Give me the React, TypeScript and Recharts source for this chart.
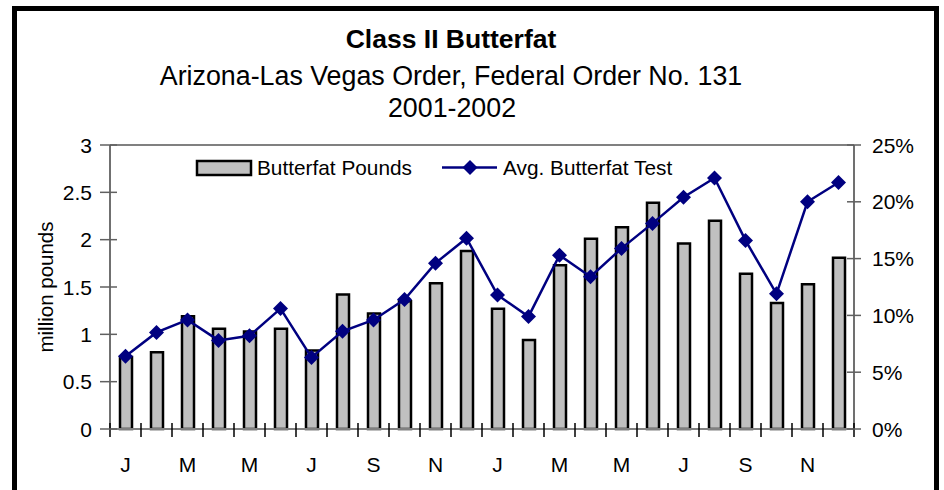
import React from 'react';
import { ComposedChart, Bar, Line, XAxis, YAxis, Legend, ReferenceLine } from 'recharts';

// ---- data ----
const months = [
  'Jan 2001', 'Feb 2001', 'Mar 2001', 'Apr 2001', 'May 2001', 'Jun 2001',
  'Jul 2001', 'Aug 2001', 'Sep 2001', 'Oct 2001', 'Nov 2001', 'Dec 2001',
  'Jan 2002', 'Feb 2002', 'Mar 2002', 'Apr 2002', 'May 2002', 'Jun 2002',
  'Jul 2002', 'Aug 2002', 'Sep 2002', 'Oct 2002', 'Nov 2002', 'Dec 2002',
];
const monthInitials = ['J', 'F', 'M', 'A', 'M', 'J', 'J', 'A', 'S', 'O', 'N', 'D'];
const butterfatPounds = [
  0.76, 0.81, 1.19, 1.06, 1.03, 1.06, 0.83, 1.42, 1.22, 1.35, 1.54, 1.88,
  1.27, 0.94, 1.73, 2.01, 2.13, 2.39, 1.96, 2.2, 1.64, 1.33, 1.53, 1.81,
];
const avgButterfatTest = [
  6.4, 8.5, 9.6, 7.8, 8.2, 10.6, 6.3, 8.6, 9.6, 11.4, 14.6, 16.8,
  11.8, 9.9, 15.3, 13.4, 15.9, 18.1, 20.4, 22.1, 16.6, 11.9, 20.0, 21.7,
];
const leftTicks = [0, 0.5, 1, 1.5, 2, 2.5, 3];
const rightTicks = [0, 5, 10, 15, 20, 25];
const titleLines = ['Class II Butterfat', 'Arizona-Las Vegas Order, Federal Order No. 131', '2001-2002'];
const seriesNames = ['Butterfat Pounds', 'Avg. Butterfat Test'];
const yAxisTitle = 'million pounds';

const data = months.map((m, i) => ({
  month: m,
  pounds: butterfatPounds[i],
  test: avgButterfatTest[i],
}));

// ---- style ----
const FONT = "'Liberation Sans', Arial, Helvetica, sans-serif";
const NAVY = '#000080';
const BAR_FILL = '#c0c0c0';
const W = 944;
const H = 490;
const PLOT_W = 744;
const BAND = PLOT_W / months.length;

const Diamond = (props: any) => {
  const { cx, cy, index } = props;
  if (cx == null || cy == null) return <g key={`d-${index}`} />;
  const s = 7.5;
  return (
    <path
      key={`d-${index}`}
      d={`M${cx},${cy - s}L${cx + s},${cy}L${cx},${cy + s}L${cx - s},${cy}Z`}
      fill={NAVY}
    />
  );
};

const LeftTick = (props: any) => {
  const { x, y, payload } = props;
  return (
    <g>
      <line x1={x + 8} x2={x + 25} y1={y} y2={y} stroke="#606060" strokeWidth={1.5} />
      <text x={x} y={y} dy="0.36em" textAnchor="end" fontSize={21} fontFamily={FONT} fill="#000">
        {payload.value}
      </text>
    </g>
  );
};

const RightTick = (props: any) => {
  const { x, y, payload } = props;
  return (
    <g>
      <line x1={x - 25} x2={x - 11} y1={y} y2={y} stroke="#606060" strokeWidth={1.5} />
      <text x={x} y={y} dy="0.36em" textAnchor="start" fontSize={21} fontFamily={FONT} fill="#000">
        {`${payload.value}%`}
      </text>
    </g>
  );
};

const XTick = (props: any) => {
  const { x, y, payload, index } = props;
  const i = index ?? payload.index ?? 0;
  const half = BAND / 2;
  return (
    <g>
      <line x1={x - half} x2={x - half} y1={y - 6} y2={y + 8} stroke="#000" strokeWidth={1.5} />
      {i === months.length - 1 && (
        <line x1={x + half} x2={x + half} y1={y - 6} y2={y + 8} stroke="#000" strokeWidth={1.5} />
      )}
      {i % 2 === 0 && (
        <text x={x} y={y + 43} textAnchor="middle" fontSize={21} fontFamily={FONT} fill="#000">
          {monthInitials[i % 12]}
        </text>
      )}
    </g>
  );
};

const renderLegend = () => (
  <svg width={520} height={34} style={{ display: 'block' }}>
    <rect x={7} y={11} width={54} height={14} fill={BAR_FILL} stroke="#000" strokeWidth={2.5} />
    <text x={67} y={25} fontSize={20.8} fontFamily={FONT} fill="#000">
      {seriesNames[0]}
    </text>
    <line x1={252} x2={307} y1={17.5} y2={17.5} stroke={NAVY} strokeWidth={2.5} />
    <path d="M280,10L287.5,17.5L280,25L272.5,17.5Z" fill={NAVY} />
    <text x={313} y={25} fontSize={20.8} fontFamily={FONT} fill="#000">
      {seriesNames[1]}
    </text>
  </svg>
);

const YLabel = (props: any) => {
  const vb = props.viewBox || { x: 50, y: 145, width: 60, height: 284 };
  const cx = vb.x - 4;
  const cy = vb.y + vb.height / 2;
  return (
    <text
      x={cx}
      y={cy}
      transform={`rotate(-90 ${cx} ${cy})`}
      textAnchor="middle"
      dy="0.36em"
      fontSize={20.5}
      fontFamily={FONT}
      fill="#000"
    >
      {yAxisTitle}
    </text>
  );
};

export default function App() {
  return (
    <div
      style={{
        position: 'absolute',
        left: 0,
        top: 0,
        width: W,
        height: H,
        overflow: 'hidden',
        background: '#fff',
        fontFamily: FONT,
      }}
    >
      <div
        style={{
          position: 'absolute',
          left: 12,
          top: 6,
          width: 927,
          height: 520,
          border: '5px solid #000',
          boxSizing: 'border-box',
        }}
      />
      <svg width={W} height={140} style={{ position: 'absolute', left: 0, top: 0 }}>
        <text x={451} y={48} textAnchor="middle" fontSize={26.5} fontWeight="bold" fontFamily={FONT} fill="#000">
          {titleLines[0]}
        </text>
        <text x={451} y={85} textAnchor="middle" fontSize={26.8} fontFamily={FONT} fill="#000">
          {titleLines[1]}
        </text>
        <text x={452} y={117} textAnchor="middle" fontSize={26.8} fontFamily={FONT} fill="#000">
          {titleLines[2]}
        </text>
      </svg>
      <div style={{ position: 'absolute', left: 0, top: 0 }}>
        <ComposedChart
          width={W}
          height={H}
          data={data}
          margin={{ top: 145, right: 20, bottom: 21, left: 50 }}
        >
          <XAxis
            dataKey="month"
            interval={0}
            height={40}
            tickSize={0}
            tickMargin={0}
            tickLine={false}
            axisLine={{ stroke: '#808080', strokeWidth: 2 }}
            tick={<XTick />}
          />
          <YAxis
            yAxisId="left"
            orientation="left"
            width={60}
            domain={[0, 3]}
            ticks={leftTicks}
            interval={0}
            tickSize={0}
            tickMargin={18}
            tickLine={false}
            axisLine={{ stroke: '#404040', strokeWidth: 1.5 }}
            tick={<LeftTick />}
            label={<YLabel />}
          />
          <YAxis
            yAxisId="right"
            orientation="right"
            width={70}
            domain={[0, 25]}
            ticks={rightTicks}
            interval={0}
            tickSize={0}
            tickMargin={18}
            tickLine={false}
            axisLine={{ stroke: '#404040', strokeWidth: 1.5 }}
            tick={<RightTick />}
          />
          <ReferenceLine yAxisId="left" y={3} stroke="#808080" strokeWidth={2} />
          <Legend
            layout="horizontal"
            verticalAlign="middle"
            align="center"
            content={renderLegend}
            wrapperStyle={{ top: 150, left: 190, width: 520, height: 34 }}
          />
          <Bar
            yAxisId="left"
            dataKey="pounds"
            name={seriesNames[0]}
            fill={BAR_FILL}
            stroke="#000"
            strokeWidth={2.5}
            barSize={12}
            isAnimationActive={false}
          />
          <Line
            yAxisId="right"
            dataKey="test"
            name={seriesNames[1]}
            stroke={NAVY}
            strokeWidth={2.5}
            dot={(p: any) => <Diamond {...p} key={`dot-${p.index}`} />}
            activeDot={false}
            isAnimationActive={false}
          />
        </ComposedChart>
      </div>
    </div>
  );
}
